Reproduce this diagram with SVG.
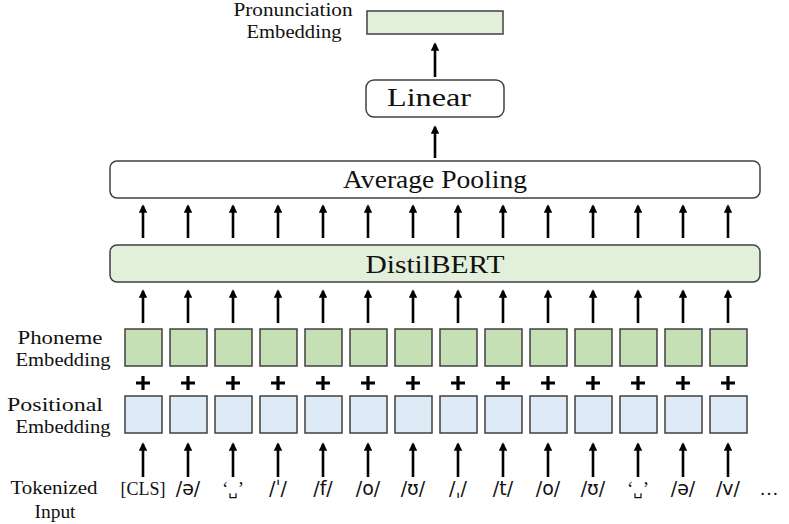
<svg xmlns="http://www.w3.org/2000/svg" width="789" height="524" viewBox="0 0 789 524">
<style>
.serif{font-family:"Liberation Serif","DejaVu Serif",serif;fill:#111}
.sans{font-family:"DejaVu Sans","Liberation Sans",sans-serif;fill:#111}
.lbl{font-size:19.5px;text-anchor:middle}
.big{font-size:25px;text-anchor:middle}
.tok{font-size:19px;text-anchor:middle}
.box{stroke:#404040;stroke-width:1.5}
.pe{fill:#c5e0b4}
.pos{fill:#deebf7}
.lg{fill:#e2efda}
.wh{fill:#ffffff}
.arr line{stroke:#000;stroke-width:2.6;marker-end:url(#ah)}
.plus{stroke:#000;stroke-width:3.2}
</style>
<defs>
<marker id="ah" viewBox="0 0 10 10" refX="8" refY="5" markerWidth="3.2" markerHeight="3.4" orient="auto" markerUnits="strokeWidth">
<path d="M0,0 L10,5 L0,10 z" fill="#000"/>
</marker>
</defs>

<g id="pronunciation-embedding">
<rect class="box lg" x="367" y="11" width="136" height="23"/>
<text class="serif lbl" x="293" y="16" textLength="119" lengthAdjust="spacingAndGlyphs">Pronunciation</text>
<text class="serif lbl" x="294" y="38" textLength="95" lengthAdjust="spacingAndGlyphs">Embedding</text>
</g>
<g id="linear">
<rect class="box wh" x="366" y="80" width="138" height="37" rx="8"/>
<text class="serif big" x="429" y="106" textLength="84" lengthAdjust="spacingAndGlyphs">Linear</text>
</g>
<g id="average-pooling">
<rect class="box wh" x="110" y="161" width="650" height="37" rx="7"/>
<text class="serif big" x="435" y="188" textLength="184" lengthAdjust="spacingAndGlyphs">Average Pooling</text>
</g>
<g id="distilbert">
<rect class="box lg" x="110" y="245" width="650" height="37" rx="7"/>
<text class="serif big" x="435" y="273" textLength="139" lengthAdjust="spacingAndGlyphs">DistilBERT</text>
</g>

<g id="phoneme-embedding">
<text class="serif lbl" x="60" y="344" textLength="85" lengthAdjust="spacingAndGlyphs">Phoneme</text>
<text class="serif lbl" x="63" y="366" textLength="95" lengthAdjust="spacingAndGlyphs">Embedding</text>
<rect class="box pe" x="125" y="329" width="37" height="37"/>
<rect class="box pe" x="170" y="329" width="37" height="37"/>
<rect class="box pe" x="215" y="329" width="37" height="37"/>
<rect class="box pe" x="260" y="329" width="37" height="37"/>
<rect class="box pe" x="305" y="329" width="37" height="37"/>
<rect class="box pe" x="350" y="329" width="37" height="37"/>
<rect class="box pe" x="395" y="329" width="37" height="37"/>
<rect class="box pe" x="440" y="329" width="37" height="37"/>
<rect class="box pe" x="485" y="329" width="37" height="37"/>
<rect class="box pe" x="530" y="329" width="37" height="37"/>
<rect class="box pe" x="575" y="329" width="37" height="37"/>
<rect class="box pe" x="620" y="329" width="37" height="37"/>
<rect class="box pe" x="665" y="329" width="37" height="37"/>
<rect class="box pe" x="710" y="329" width="37" height="37"/>
</g>

<g id="plus-signs">
<path class="plus" d="M136,383h14M143,376v14 M181,383h14M188,376v14 M226,383h14M233,376v14 M271,383h14M278,376v14 M316,383h14M323,376v14 M361,383h14M368,376v14 M406,383h14M413,376v14 M451,383h14M458,376v14 M496,383h14M503,376v14 M541,383h14M548,376v14 M586,383h14M593,376v14 M631,383h14M638,376v14 M676,383h14M683,376v14 M721,383h14M728,376v14"/>
</g>

<g id="positional-embedding">
<text class="serif lbl" x="55" y="411" textLength="96" lengthAdjust="spacingAndGlyphs">Positional</text>
<text class="serif lbl" x="63" y="433" textLength="95" lengthAdjust="spacingAndGlyphs">Embedding</text>
<rect class="box pos" x="125" y="396" width="37" height="37"/>
<rect class="box pos" x="170" y="396" width="37" height="37"/>
<rect class="box pos" x="215" y="396" width="37" height="37"/>
<rect class="box pos" x="260" y="396" width="37" height="37"/>
<rect class="box pos" x="305" y="396" width="37" height="37"/>
<rect class="box pos" x="350" y="396" width="37" height="37"/>
<rect class="box pos" x="395" y="396" width="37" height="37"/>
<rect class="box pos" x="440" y="396" width="37" height="37"/>
<rect class="box pos" x="485" y="396" width="37" height="37"/>
<rect class="box pos" x="530" y="396" width="37" height="37"/>
<rect class="box pos" x="575" y="396" width="37" height="37"/>
<rect class="box pos" x="620" y="396" width="37" height="37"/>
<rect class="box pos" x="665" y="396" width="37" height="37"/>
<rect class="box pos" x="710" y="396" width="37" height="37"/>
</g>

<g id="tokenized-input">
<text class="serif lbl" x="54" y="494" textLength="87" lengthAdjust="spacingAndGlyphs">Tokenized</text>
<text class="serif lbl" x="55" y="518" textLength="41" lengthAdjust="spacingAndGlyphs">Input</text>
<text class="serif tok" x="143" y="495" textLength="45" lengthAdjust="spacingAndGlyphs">[CLS]</text>
<text class="sans tok" x="188" y="495">/ə/</text>
<text class="serif tok" x="233" y="495">‘<tspan class="sans" font-size="15">␣</tspan>’</text>
<text class="sans tok" x="278" y="495">/ˈ/</text>
<text class="sans tok" x="323" y="495">/f/</text>
<text class="sans tok" x="368" y="495">/o/</text>
<text class="sans tok" x="413" y="495">/ʊ/</text>
<text class="sans tok" x="458" y="495">/ˌ/</text>
<text class="sans tok" x="503" y="495">/t/</text>
<text class="sans tok" x="548" y="495">/o/</text>
<text class="sans tok" x="593" y="495">/ʊ/</text>
<text class="serif tok" x="638" y="495">‘<tspan class="sans" font-size="15">␣</tspan>’</text>
<text class="sans tok" x="683" y="495">/ə/</text>
<text class="sans tok" x="728" y="495">/v/</text>
<text class="serif tok" x="769" y="495">…</text>
</g>

<g id="connectors" class="arr">
<line x1="435" y1="77" x2="435" y2="44"/>
<line x1="435" y1="158" x2="435" y2="127"/>
<line x1="143" y1="238" x2="143" y2="206"/><line x1="188" y1="238" x2="188" y2="206"/><line x1="233" y1="238" x2="233" y2="206"/><line x1="278" y1="238" x2="278" y2="206"/><line x1="323" y1="238" x2="323" y2="206"/><line x1="368" y1="238" x2="368" y2="206"/><line x1="413" y1="238" x2="413" y2="206"/><line x1="458" y1="238" x2="458" y2="206"/><line x1="503" y1="238" x2="503" y2="206"/><line x1="548" y1="238" x2="548" y2="206"/><line x1="593" y1="238" x2="593" y2="206"/><line x1="638" y1="238" x2="638" y2="206"/><line x1="683" y1="238" x2="683" y2="206"/><line x1="728" y1="238" x2="728" y2="206"/>
<line x1="143" y1="323" x2="143" y2="291"/><line x1="188" y1="323" x2="188" y2="291"/><line x1="233" y1="323" x2="233" y2="291"/><line x1="278" y1="323" x2="278" y2="291"/><line x1="323" y1="323" x2="323" y2="291"/><line x1="368" y1="323" x2="368" y2="291"/><line x1="413" y1="323" x2="413" y2="291"/><line x1="458" y1="323" x2="458" y2="291"/><line x1="503" y1="323" x2="503" y2="291"/><line x1="548" y1="323" x2="548" y2="291"/><line x1="593" y1="323" x2="593" y2="291"/><line x1="638" y1="323" x2="638" y2="291"/><line x1="683" y1="323" x2="683" y2="291"/><line x1="728" y1="323" x2="728" y2="291"/>
<line x1="143" y1="477" x2="143" y2="444"/><line x1="188" y1="477" x2="188" y2="444"/><line x1="233" y1="477" x2="233" y2="444"/><line x1="278" y1="477" x2="278" y2="444"/><line x1="323" y1="477" x2="323" y2="444"/><line x1="368" y1="477" x2="368" y2="444"/><line x1="413" y1="477" x2="413" y2="444"/><line x1="458" y1="477" x2="458" y2="444"/><line x1="503" y1="477" x2="503" y2="444"/><line x1="548" y1="477" x2="548" y2="444"/><line x1="593" y1="477" x2="593" y2="444"/><line x1="638" y1="477" x2="638" y2="444"/><line x1="683" y1="477" x2="683" y2="444"/><line x1="728" y1="477" x2="728" y2="444"/>
</g>
</svg>
